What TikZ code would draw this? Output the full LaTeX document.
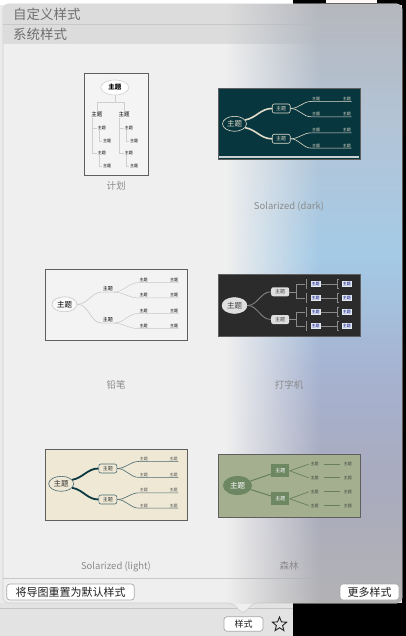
\documentclass[tikz,border=0pt]{standalone}
\usepackage{fontspec}
\setmainfont{Noto Sans CJK SC}
\usetikzlibrary{positioning, shapes.geometric, fadings}

\definecolor{deskgray}{HTML}{EAEAEA}
\definecolor{panelbg}{HTML}{EFEFEF}
\definecolor{panelline}{HTML}{CFCFCF}
\definecolor{hdrbg}{HTML}{DCDCDC}
\definecolor{hdrline}{HTML}{C8C8C8}
\definecolor{hdrtext}{HTML}{6F6F6F}
\definecolor{captext}{HTML}{8B8B8B}
\definecolor{framegray}{HTML}{5F5F5F}
\definecolor{barbg}{HTML}{E3E3E3}
\definecolor{barline}{HTML}{C4C4C4}
\definecolor{btnline}{HTML}{A8A8A8}
\definecolor{glassA}{HTML}{B5B7BD}
\definecolor{glassB}{HTML}{B3C4D6}
\definecolor{glassC}{HTML}{A4CAE6}
\definecolor{glassD}{HTML}{A6B2D0}
\definecolor{glassE}{HTML}{A9ABBE}
\definecolor{glassF}{HTML}{B2B2B5}
\definecolor{planbg}{HTML}{F4F4F4}
\definecolor{planline}{HTML}{CFCFCF}
\definecolor{soldark}{HTML}{08363F}
\definecolor{solcream}{HTML}{E0DCC8}
\definecolor{solstrip}{HTML}{C8D0D0}
\definecolor{sollight}{HTML}{EEE8D5}
\definecolor{solteal}{HTML}{0B3942}
\definecolor{solgray}{HTML}{4A6A70}
\definecolor{pencilbg}{HTML}{F3F3F3}
\definecolor{pencilline}{HTML}{C8C8C8}
\definecolor{typebg}{HTML}{2B2B2B}
\definecolor{typenode}{HTML}{DEDEDE}
\definecolor{typeline}{HTML}{8A8A8A}
\definecolor{typesub}{HTML}{E2EAF3}
\definecolor{forestbg}{HTML}{A3AF8E}
\definecolor{forestnode}{HTML}{6D8763}
\definecolor{forestline}{HTML}{66805C}

\tikzfading[name=glassfade, left color=transparent!100, right color=transparent!0]
\pgfdeclareverticalshading{glassshade}{100bp}{color(0bp)=(glassF);
  color(25bp)=(glassF); color(35bp)=(glassE); color(44bp)=(glassD);
  color(54bp)=(glassC); color(65bp)=(glassB); color(75bp)=(glassA);
  color(100bp)=(glassA)}

\tikzset{
  panel/.style={fill=panelbg, draw=panelline, line width=0.6pt, rounded corners=5pt},
  hdr/.style={anchor=west, inner sep=0, text=hdrtext, font=\fontsize{13.5}{14}\selectfont},
  caption/.style={inner sep=0, text=captext, font=\fontsize{9.5}{10}\selectfont},
  thumb/.style={draw=framegray, line width=1pt, inner sep=0},
  btn/.style={draw=btnline, fill=white, line width=0.7pt, rounded corners=3pt,
    inner sep=0, text=black!88, font=\fontsize{11}{12}\selectfont},
  rootnode/.style={ellipse, inner sep=0, minimum width=24pt, minimum height=15pt,
    font=\fontsize{7.5}{8}\selectfont},
  mainnode/.style={inner sep=0, minimum width=18pt, minimum height=9pt,
    font=\fontsize{5}{5}\selectfont},
  tinytext/.style={inner sep=0.6pt, font=\fontsize{4}{4}\selectfont}
}

\begin{document}
\begin{tikzpicture}[x=1pt, y=-1pt]
\useasboundingbox (0,0) rectangle (406,636);

% window behind
\fill[deskgray] (0,0) rectangle (406,636);
\fill[white] (0,0) rectangle (293,5);
\fill[black] (293,0) rectangle (406,5);
\fill[black] (402,0) rectangle (406,636);
\fill[white!90!pink] (326,0) rectangle (377,3);
\fill[barbg] (0,603) rectangle (293,636);
\fill[black] (293,603) rectangle (406,636);
\draw[barline, line width=0.8pt] (0,608) -- (293,608);

% popover
\path[panel] (3,4) -- (402,4) -- (402,603) -- (253,603) -- (243,614.5)
  -- (233,603) -- (3,603) -- cycle;
\begin{scope}
\clip[rounded corners=5pt] (3,4) -- (402,4) -- (402,603) -- (253,603)
  -- (243,614.5) -- (233,603) -- (3,603) -- cycle;
\fill[hdrbg] (3,4) rectangle (402,24);
\fill[hdrbg] (3,25) rectangle (402,44.5);
\draw[hdrline, line width=0.8pt] (3,24.5) -- (402,24.5);
\draw[hdrline, line width=0.8pt] (3,578) -- (402,578);
\shade[shading=glassshade, path fading=glassfade] (226,4) rectangle (320,603);
\shade[shading=glassshade] (319.6,4) rectangle (402,603);
\end{scope}

\node[hdr] (hcustom) at (13,14.5) {自定义样式};
\node[hdr] (hsystem) at (13,34.5) {系统样式};

% plan
\node[thumb, fill=planbg, minimum width=64pt, minimum height=102pt] (tplan) at (116,125) {};
\node[caption, below=5pt of tplan] (cplan) {计划};
\begin{scope}[shift={(tplan.north west)}]
\node[rootnode, draw=planline, fill=white, line width=0.6pt, minimum width=28pt,
  font=\bfseries\fontsize{6.5}{7}\selectfont] (proot) at (31.3,14) {主题};
\node[tinytext, font=\fontsize{5.5}{6}\selectfont] (pm1) at (13.3,41) {主题};
\node[tinytext, font=\fontsize{5.5}{6}\selectfont] (pm2) at (40.7,41) {主题};
\draw[planline, line width=0.6pt] (proot.south) -- ++(0,7) -| (pm1.north);
\draw[planline, line width=0.6pt] (proot.south) -- ++(0,7) -| (pm2.north);
\foreach \c/\m/\x in {a/pm1/0, b/pm2/27} {
  \node[tinytext] (ps\c1) at (18.3+\x,54.3) {主题};
  \node[tinytext] (ps\c2) at (23.7+\x,67.7) {主题};
  \node[tinytext] (ps\c3) at (18.3+\x,79.3) {主题};
  \node[tinytext] (ps\c4) at (23.7+\x,92.3) {主题};
  \draw[planline, line width=0.5pt] ([xshift=-5pt]\m.south) |- (ps\c1.west);
  \draw[planline, line width=0.5pt] ([xshift=-5pt]\m.south) |- (ps\c3.west);
  \draw[planline, line width=0.5pt] ([xshift=-3pt]ps\c1.south) |- (ps\c2.west);
  \draw[planline, line width=0.5pt] ([xshift=-3pt]ps\c3.south) |- (ps\c4.west);
}
\end{scope}

% solarized dark
\node[thumb, fill=soldark, minimum width=142pt, minimum height=71pt] (tdark) at (289,124.5) {};
\node[caption, below=41pt of tdark] (cdark) {Solarized (dark)};
\begin{scope}[shift={(tdark.north west)}]
\fill[solstrip] (1,68) rectangle (141,70);
\node[rootnode, draw=solcream, line width=0.6pt, text=solcream] (droot) at (17,35.3) {主题};
\node[mainnode, draw=solcream, rounded corners=2pt, line width=0.6pt, text=solcream] (dm1) at (63.7,20) {主题};
\node[mainnode, draw=solcream, rounded corners=2pt, line width=0.6pt, text=solcream] (dm2) at (63.7,50.3) {主题};
\draw[solcream, line width=1.6pt] (droot.20) to[out=10,in=180] (dm1.west);
\draw[solcream, line width=1.6pt] (droot.-20) to[out=-10,in=180] (dm2.west);
\foreach \i/\y/\m in {1/10.3/dm1, 2/25.7/dm1, 3/41.7/dm2, 4/57/dm2} {
  \node[tinytext, text=solcream] (ds\i) at (98.7,\y) {主题};
  \node[tinytext, text=solcream] (dss\i) at (129.3,\y) {主题};
  \draw[solcream, line width=0.6pt] (\m.east) to[out=0,in=180] (ds\i.south west)
    -- (ds\i.south east) to[out=0,in=180] (dss\i.south west) -- (dss\i.south east);
}
\end{scope}

% pencil
\node[thumb, fill=pencilbg, minimum width=142pt, minimum height=71pt] (tpencil) at (116,304.5) {};
\node[caption, below=40pt of tpencil] (cpencil) {铅笔};
\begin{scope}[shift={(tpencil.north west)}]
\node[rootnode, draw=pencilline, fill=white!50!pencilbg, line width=0.6pt, minimum width=25pt] (lroot) at (20,35.8) {主题};
\node[tinytext, font=\fontsize{5}{5}\selectfont] (lm1) at (63.3,20.5) {主题};
\node[tinytext, font=\fontsize{5}{5}\selectfont] (lm2) at (63.3,51.5) {主题};
\draw[pencilline, line width=0.6pt] (lroot) to[out=0,in=180] (lm1.south west) -- (lm1.south east);
\draw[pencilline, line width=0.6pt] (lroot) to[out=0,in=180] (lm2.south west) -- (lm2.south east);
\foreach \i/\y/\m in {1/11.5/lm1, 2/26.8/lm1, 3/42.2/lm2, 4/57.5/lm2} {
  \node[tinytext] (ls\i) at (99,\y) {主题};
  \node[tinytext] (lss\i) at (129.7,\y) {主题};
  \draw[pencilline, line width=0.5pt] (\m.south east) to[out=0,in=180] (ls\i.south west)
    -- (ls\i.south east) to[out=0,in=180] (lss\i.south west) -- (lss\i.south east);
}
\end{scope}

% typewriter
\node[thumb, fill=typebg, minimum width=142pt, minimum height=62pt] (ttype) at (289,305) {};
\node[caption, below=44pt of ttype] (ctype) {打字机};
\begin{scope}[shift={(ttype.north west)}]
\node[rootnode, fill=typenode, draw=white!70!typenode, minimum width=25pt, minimum height=16pt, text=black!75] (troot) at (17,32) {主题};
\node[mainnode, fill=typenode, rounded corners=2pt, text=black!75] (tm1) at (62.7,18.3) {主题};
\node[mainnode, fill=typenode, rounded corners=2pt, text=black!75] (tm2) at (62.7,46) {主题};
\draw[typeline, line width=0.8pt] (troot) to[out=0,in=180] (tm1.west);
\draw[typeline, line width=0.8pt] (troot) to[out=0,in=180] (tm2.west);
\foreach \i/\y/\m in {1/10.7/tm1, 2/24.3/tm1, 3/38.3/tm2, 4/52.7/tm2} {
  \node[tinytext, fill=typesub, inner sep=1pt, text=blue!50!black] (ts\i) at (98,\y) {主题};
  \node[tinytext, fill=typesub, inner sep=1pt, text=blue!50!black] (tss\i) at (129.3,\y) {主题};
  \draw[typeline, line width=0.6pt] (\m.east) -- ++(7,0) |- ([xshift=-5pt]ts\i.west);
  \draw[typeline, line width=0.6pt] (ts\i.east) -- ([xshift=-5pt]tss\i.west);
  \draw[typeline, line width=0.6pt] ([shift={(-3pt,4.5pt)}]ts\i.west) -- ++(-1.5pt,0)
    -- ++(0,-9pt) -- ++(1.5pt,0);
  \draw[typeline, line width=0.6pt] ([shift={(-3pt,4.5pt)}]tss\i.west) -- ++(-1.5pt,0)
    -- ++(0,-9pt) -- ++(1.5pt,0);
}
\end{scope}

% solarized light
\node[thumb, fill=sollight, minimum width=142pt, minimum height=71pt] (tlight) at (116,484.5) {};
\node[caption, below=41.5pt of tlight] (clight) {Solarized (light)};
\begin{scope}[shift={(tlight.north west)}]
\node[rootnode, draw=solgray, line width=0.6pt, minimum width=25pt, text=black!80] (sroot) at (16.7,35.3) {主题};
\node[mainnode, draw=solgray, rounded corners=2pt, line width=0.6pt, text=black!80] (sm1) at (63.3,20) {主题};
\node[mainnode, draw=solgray, rounded corners=2pt, line width=0.6pt, text=black!80] (sm2) at (63.3,51) {主题};
\draw[solteal, line width=1.8pt] (sroot.20) to[out=10,in=180] (sm1.west);
\draw[solteal, line width=1.8pt] (sroot.-20) to[out=-10,in=180] (sm2.west);
\foreach \i/\y/\m in {1/10.3/sm1, 2/26.3/sm1, 3/41.7/sm2, 4/57/sm2} {
  \node[tinytext, text=black!70] (ss\i) at (99.3,\y) {主题};
  \node[tinytext, text=black!70] (sss\i) at (129,\y) {主题};
  \draw[solgray, line width=0.6pt] (\m.east) to[out=0,in=180] (ss\i.south west)
    -- (ss\i.south east) to[out=0,in=180] (sss\i.south west) -- (sss\i.south east);
}
\end{scope}

% forest
\node[thumb, fill=forestbg, minimum width=142pt, minimum height=63pt] (tforest) at (289,485.5) {};
\node[caption, below=44pt of tforest] (cforest) {森林};
\begin{scope}[shift={(tforest.north west)}]
\node[rootnode, fill=forestnode, minimum width=29pt, minimum height=19pt, text=white] (froot) at (20,32) {主题};
\node[mainnode, fill=forestnode, minimum width=18.3pt, minimum height=12.7pt, text=white] (fm1) at (62.8,17.3) {主题};
\node[mainnode, fill=forestnode, minimum width=18.3pt, minimum height=12.7pt, text=white] (fm2) at (62.8,45.3) {主题};
\draw[forestline, line width=1pt] (froot) -- (fm1);
\draw[forestline, line width=1pt] (froot) -- (fm2);
\foreach \i/\y/\m in {1/10.7/fm1, 2/24.3/fm1, 3/38.3/fm2, 4/52/fm2} {
  \node[tinytext, text=black!75] (fs\i) at (97,\y) {主题};
  \node[tinytext, text=black!75] (fss\i) at (130.3,\y) {主题};
  \draw[forestline, line width=0.7pt] (\m.east) -- ([xshift=-1pt]fs\i.west);
  \draw[forestline, line width=0.7pt] ([xshift=5pt]fs\i.east) -- ([xshift=-3pt]fss\i.west);
}
\end{scope}

% buttons
\node[btn, minimum width=127.6pt, minimum height=16pt] (breset) at (70.5,592) {将导图重置为默认样式};
\node[btn, minimum width=59pt, minimum height=16pt] (bmore) at (369.5,592) {更多样式};
\node[btn, minimum width=39pt, minimum height=14.5pt, font=\fontsize{9}{9}\selectfont] (bstyle) at (243.5,624) {样式};
\node[star, star points=5, star point ratio=2.3, draw=black!85, line width=0.9pt,
  minimum size=15pt, inner sep=0] (bstar) at (279.5,624.5) {};
\end{tikzpicture}
\end{document}
